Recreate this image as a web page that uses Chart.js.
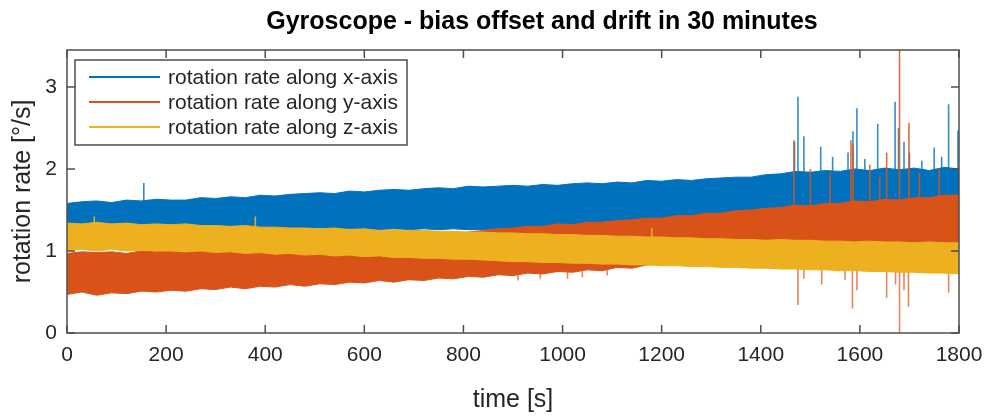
<!DOCTYPE html>
<html>
<head>
<meta charset="utf-8">
<script src="https://cdn.jsdelivr.net/npm/chart.js@4/dist/chart.umd.min.js"></script>
<style>
  html, body { margin: 0; padding: 0; background: #fff; }
  #wrap { width: 989px; height: 416px; }
</style>
</head>
<body>
<div id="wrap"><canvas id="gyroChart"></canvas></div>
<script>
const chartTitle = 'Gyroscope - bias offset and drift in 30 minutes';
const seriesNames = ['rotation rate along x-axis', 'rotation rate along y-axis', 'rotation rate along z-axis'];
const seriesColors = ['#0072BD', '#D95319', '#EDB120'];
const xTicks = [0, 200, 400, 600, 800, 1000, 1200, 1400, 1600, 1800];
const yTicks = [0, 1, 2, 3];

// sample times of the noise envelopes [s]
const timeSec = [
    0, 30, 60, 90, 120, 150, 180, 210, 240, 270,
    300, 330, 360, 390, 420, 450, 480, 510, 540, 570,
    600, 630, 660, 690, 720, 750, 780, 810, 840, 870,
    900, 930, 960, 990, 1020, 1050, 1080, 1110, 1140, 1170,
    1200, 1230, 1260, 1290, 1320, 1350, 1380, 1410, 1440, 1470,
    1500, 1530, 1560, 1590, 1620, 1650, 1680, 1710, 1740, 1770,
    1800
];

// x-axis rate: upper / lower edge of the noise band
const xHigh = [
    1.58, 1.60, 1.61, 1.59, 1.62, 1.61, 1.63, 1.62, 1.62, 1.65,
    1.64, 1.66, 1.65, 1.68, 1.67, 1.69, 1.70, 1.71, 1.70, 1.73,
    1.72, 1.74, 1.75, 1.74, 1.76, 1.77, 1.76, 1.79, 1.78, 1.79,
    1.80, 1.79, 1.81, 1.80, 1.82, 1.83, 1.82, 1.84, 1.83, 1.86,
    1.85, 1.87, 1.86, 1.88, 1.89, 1.90, 1.90, 1.93, 1.94, 1.97,
    1.96, 1.98, 1.97, 2.00, 1.98, 2.01, 1.99, 2.01, 1.98, 2.02,
    2.00
];
const xLow = [
    1.31, 1.30, 1.32, 1.30, 1.31, 1.30, 1.31, 1.29, 1.30, 1.29,
    1.29, 1.28, 1.29, 1.27, 1.28, 1.27, 1.28, 1.28, 1.27, 1.27,
    1.27, 1.26, 1.27, 1.26, 1.27, 1.26, 1.27, 1.26, 1.26, 1.27,
    1.26, 1.27, 1.28, 1.28, 1.29, 1.30, 1.30, 1.31, 1.32, 1.33,
    1.34, 1.35, 1.36, 1.37, 1.38, 1.39, 1.40, 1.41, 1.42, 1.43,
    1.44, 1.45, 1.46, 1.47, 1.48, 1.49, 1.50, 1.51, 1.52, 1.53,
    1.54
];

// y-axis rate
const yHigh = [
    0.97, 0.99, 0.98, 0.99, 0.97, 1.00, 0.99, 1.00, 0.98, 1.01,
    1.01, 1.03, 1.02, 1.04, 1.04, 1.06, 1.06, 1.08, 1.08, 1.10,
    1.11, 1.13, 1.14, 1.16, 1.17, 1.20, 1.21, 1.23, 1.25, 1.27,
    1.28, 1.30, 1.30, 1.33, 1.32, 1.35, 1.35, 1.37, 1.38, 1.40,
    1.40, 1.43, 1.43, 1.46, 1.46, 1.49, 1.50, 1.52, 1.53, 1.56,
    1.55, 1.58, 1.58, 1.61, 1.60, 1.63, 1.62, 1.65, 1.65, 1.68,
    1.68
];
const yLow = [
    0.47, 0.50, 0.46, 0.49, 0.48, 0.51, 0.50, 0.52, 0.51, 0.54,
    0.53, 0.56, 0.54, 0.57, 0.56, 0.59, 0.57, 0.60, 0.59, 0.62,
    0.61, 0.64, 0.62, 0.65, 0.64, 0.67, 0.66, 0.69, 0.68, 0.71,
    0.70, 0.73, 0.72, 0.75, 0.74, 0.77, 0.76, 0.80, 0.79, 0.83,
    0.84, 0.87, 0.88, 0.91, 0.92, 0.95, 0.95, 0.98, 0.98, 1.01,
    1.00, 1.03, 1.02, 1.05, 1.04, 1.07, 1.05, 1.08, 1.06, 1.09,
    1.08
];

// z-axis rate
const zHigh = [
    1.34, 1.33, 1.35, 1.33, 1.34, 1.32, 1.33, 1.32, 1.33, 1.31,
    1.31, 1.30, 1.31, 1.29, 1.29, 1.28, 1.28, 1.27, 1.28, 1.26,
    1.27, 1.25, 1.26, 1.25, 1.25, 1.24, 1.24, 1.23, 1.23, 1.22,
    1.22, 1.21, 1.21, 1.20, 1.20, 1.19, 1.19, 1.18, 1.18, 1.17,
    1.17, 1.16, 1.16, 1.15, 1.15, 1.14, 1.14, 1.13, 1.14, 1.13,
    1.13, 1.12, 1.12, 1.11, 1.12, 1.11, 1.11, 1.10, 1.11, 1.10,
    1.10
];
const zLow = [
    1.01, 1.02, 1.00, 1.02, 1.00, 1.01, 1.00, 1.00, 0.99, 1.00,
    0.98, 0.99, 0.97, 0.98, 0.96, 0.97, 0.95, 0.96, 0.94, 0.95,
    0.93, 0.94, 0.92, 0.92, 0.91, 0.91, 0.90, 0.90, 0.89, 0.88,
    0.87, 0.87, 0.86, 0.86, 0.85, 0.85, 0.84, 0.84, 0.83, 0.83,
    0.82, 0.82, 0.81, 0.81, 0.80, 0.80, 0.79, 0.79, 0.78, 0.78,
    0.77, 0.77, 0.76, 0.76, 0.75, 0.75, 0.74, 0.74, 0.73, 0.73,
    0.72
];

// single outliers (time, from, to)
const xSpikeTime = [155, 1468, 1475, 1487, 1521, 1545, 1576, 1586, 1594, 1610, 1636, 1671, 1678, 1689, 1700, 1725, 1750, 1765, 1779, 1798];
const xSpikeBase = [1.55, 1.80, 1.80, 1.80, 1.80, 1.80, 1.80, 1.80, 1.80, 1.80, 1.80, 1.80, 1.80, 1.80, 1.80, 1.80, 1.80, 1.80, 1.80, 1.80];
const xSpikePeak = [1.83, 2.33, 2.88, 2.40, 2.27, 2.15, 2.20, 2.46, 2.74, 2.12, 2.55, 2.82, 2.50, 2.33, 2.20, 2.10, 2.26, 2.15, 2.79, 2.47];

const yUpTime = [1467, 1500, 1540, 1582, 1586, 1620, 1640, 1654, 1680, 1699, 1720, 1760];
const yUpBase = [1.40, 1.45, 1.45, 1.45, 1.45, 1.45, 1.45, 1.45, 1.00, 1.45, 1.45, 1.45];
const yUpPeak = [2.35, 2.00, 1.95, 2.35, 2.30, 2.05, 1.90, 2.20, 3.45, 2.56, 1.95, 2.00];

const yDownTime = [910, 955, 1010, 1040, 1090, 1475, 1487, 1523, 1570, 1585, 1594, 1654, 1672, 1680, 1689, 1698, 1779];
const yDownBase = [0.80, 0.80, 0.82, 0.82, 0.85, 1.00, 1.00, 1.00, 1.00, 1.00, 1.00, 1.00, 1.00, 1.00, 1.00, 1.00, 1.00];
const yDownLow = [0.64, 0.66, 0.66, 0.68, 0.70, 0.34, 0.66, 0.59, 0.65, 0.30, 0.52, 0.43, 0.59, 0.00, 0.52, 0.32, 0.49];

const zSpikeTime = [55, 380, 1180];
const zSpikeBase = [1.25, 1.22, 1.10];
const zSpikePeak = [1.42, 1.42, 1.28];

function band(values) {
    return timeSec.map((t, i) => ({ x: t, y: values[i] }));
}

function spikes(times, from, to) {
    const pts = [];
    times.forEach((t, i) => {
        pts.push({ x: t, y: from[i] }, { x: t, y: to[i] }, { x: t, y: null });
    });
    return pts;
}

function bandSet(values, color, order, fill) {
    return {
        data: band(values),
        borderColor: color,
        backgroundColor: color,
        borderWidth: 1,
        pointRadius: 0,
        tension: 0,
        fill: fill,
        order: order
    };
}

function spikeSet(pts, color, order) {
    return {
        data: pts,
        borderColor: color,
        borderWidth: 1.6,
        pointRadius: 0,
        spanGaps: false,
        fill: false,
        order: order
    };
}

const fontFamily = "'Liberation Sans', Arial, Helvetica, sans-serif";

const framePlugin = {
    id: 'frame',
    afterDraw(chart) {
        const { ctx, chartArea: a, scales } = chart;
        ctx.save();
        ctx.strokeStyle = '#4d4d4d';
        ctx.lineWidth = 1.5;
        ctx.strokeRect(a.left, a.top, a.right - a.left, a.bottom - a.top);

        ctx.beginPath();
        xTicks.forEach(v => {
            const px = scales.x.getPixelForValue(v);
            ctx.moveTo(px, a.bottom); ctx.lineTo(px, a.bottom - 8);
            ctx.moveTo(px, a.top); ctx.lineTo(px, a.top + 8);
        });
        yTicks.forEach(v => {
            const py = scales.y.getPixelForValue(v);
            ctx.moveTo(a.left, py); ctx.lineTo(a.left + 8, py);
            ctx.moveTo(a.right, py); ctx.lineTo(a.right - 8, py);
        });
        ctx.stroke();

        // title
        ctx.fillStyle = '#000';
        ctx.font = 'bold 25px ' + fontFamily;
        ctx.textAlign = 'center';
        ctx.textBaseline = 'middle';
        ctx.fillText(chartTitle, (a.left + a.right) / 2 + 29, 22);

        // legend
        const lx = a.left + 8, ly = a.top + 10, lw = 332, lh = 85;
        ctx.fillStyle = '#fff';
        ctx.fillRect(lx, ly, lw, lh);
        ctx.strokeStyle = '#4d4d4d';
        ctx.lineWidth = 1.5;
        ctx.strokeRect(lx, ly, lw, lh);
        ctx.font = '21px ' + fontFamily;
        ctx.textAlign = 'left';
        seriesNames.forEach((name, i) => {
            const ry = ly + 17 + i * 25;
            ctx.strokeStyle = seriesColors[i];
            ctx.lineWidth = 2;
            ctx.beginPath();
            ctx.moveTo(lx + 14, ry); ctx.lineTo(lx + 85, ry);
            ctx.stroke();
            ctx.fillStyle = '#262626';
            ctx.fillText(name, lx + 93, ry + 1);
        });
        ctx.restore();
    }
};

const ctx = document.getElementById('gyroChart').getContext('2d');
new Chart(ctx, {
    type: 'line',
    data: {
        datasets: [
            bandSet(xHigh, seriesColors[0], 3, '+1'),
            bandSet(xLow, seriesColors[0], 3, false),
            spikeSet(spikes(xSpikeTime, xSpikeBase, xSpikePeak), 'rgba(0,114,189,0.8)', 3),
            bandSet(yHigh, seriesColors[1], 2, '+1'),
            bandSet(yLow, seriesColors[1], 2, false),
            spikeSet(spikes(yUpTime, yUpBase, yUpPeak), 'rgba(217,83,25,0.85)', 2),
            spikeSet(spikes(yDownTime, yDownBase, yDownLow), 'rgba(217,83,25,0.7)', 2),
            bandSet(zHigh, seriesColors[2], 1, '+1'),
            bandSet(zLow, seriesColors[2], 1, false),
            spikeSet(spikes(zSpikeTime, zSpikeBase, zSpikePeak), 'rgba(237,177,32,0.9)', 1)
        ]
    },
    options: {
        responsive: true,
        maintainAspectRatio: false,
        animation: false,
        layout: { padding: { top: 50, right: 30, left: 0, bottom: 0 } },
        plugins: {
            legend: { display: false },
            tooltip: { enabled: false },
            title: { display: false }
        },
        scales: {
            x: {
                type: 'linear',
                min: 0,
                max: 1800,
                afterBuildTicks: s => { s.ticks = xTicks.map(v => ({ value: v })); },
                afterFit: s => { s.height = 83; s.paddingLeft = 0; s.paddingRight = 0; },
                grid: { display: false, drawTicks: false },
                border: { display: false },
                ticks: {
                    color: '#262626',
                    padding: 10,
                    maxRotation: 0,
                    font: { size: 21, family: fontFamily },
                    callback: v => String(v)
                },
                title: {
                    display: true,
                    text: 'time [s]',
                    color: '#262626',
                    padding: { top: 0, bottom: 1 },
                    font: { size: 25, family: fontFamily }
                }
            },
            y: {
                type: 'linear',
                min: 0,
                max: 3.45,
                afterBuildTicks: s => { s.ticks = yTicks.map(v => ({ value: v })); },
                afterFit: s => { s.width = 67; },
                grid: { display: false, drawTicks: false },
                border: { display: false },
                ticks: { color: '#262626', padding: 10, font: { size: 21, family: fontFamily } },
                title: {
                    display: true,
                    text: 'rotation rate [°/s]',
                    color: '#262626',
                    padding: { top: 8, bottom: 0 },
                    font: { size: 25, family: fontFamily }
                }
            }
        }
    },
    plugins: [framePlugin]
});
</script>
</body>
</html>
